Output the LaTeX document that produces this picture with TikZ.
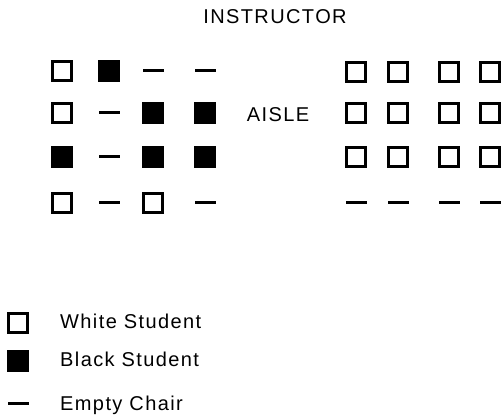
\documentclass[tikz,border=0pt]{standalone}
\usepackage{fontspec}
\setmainfont{Liberation Sans}[LetterSpace=7]
\usepackage{tikz}

\tikzset{
  seat w/.style={draw, line width=2.6pt, minimum size=19pt, inner sep=0pt},
  seat b/.style={fill, minimum size=21.5pt, inner sep=0pt},
  seat e/.style={fill, minimum width=21pt, minimum height=3pt, inner sep=0pt},
  beschr/.style={inner sep=0pt, anchor=base},
}

\begin{document}
\begin{tikzpicture}[x=1pt, y=-1pt, font=\fontsize{20}{24}\selectfont]
	%Bildbereich
	\useasboundingbox (0,0) rectangle (502,419);
	% Beschriftung oben
	\node[beschr] (instructor) at (275,24) {INSTRUCTOR};
	\node[beschr] (aisle) at (278,122) {AISLE};
	% Sitze links
	\def\lx{{62,109,153,205}}
	\foreach \r/\y/\reihe in {1/71/{w,b,e,e}, 2/113/{w,e,b,b}, 3/157/{b,e,b,b}, 4/203/{w,e,w,e}}
		\foreach \t [count=\c] in \reihe
			\node[seat \t] (l\r\c) at ({\lx[\c-1]},\y) {};
	% Sitze rechts
	\def\rx{{356,398,449,490}}
	\foreach \r/\y/\reihe in {1/72/{w,w,w,w}, 2/113/{w,w,w,w}, 3/157/{w,w,w,w}, 4/203/{e,e,e,e}}
		\foreach \t [count=\c] in \reihe
			\node[seat \t] (r\r\c) at ({\rx[\c-1]},\y) {};
	% Legende
	\node[seat w] (lw) at (18,323) {};
	\node[seat b] (lb) at (18,361) {};
	\node[seat e] (le) at (18,403) {};
	\node[beschr, anchor=base west] (tw) at (60,328) {White Student};
	\node[beschr, anchor=base west] (tb) at (60,366) {Black Student};
	\node[beschr, anchor=base west] (te) at (60,410) {Empty Chair};
\end{tikzpicture}
\end{document}
